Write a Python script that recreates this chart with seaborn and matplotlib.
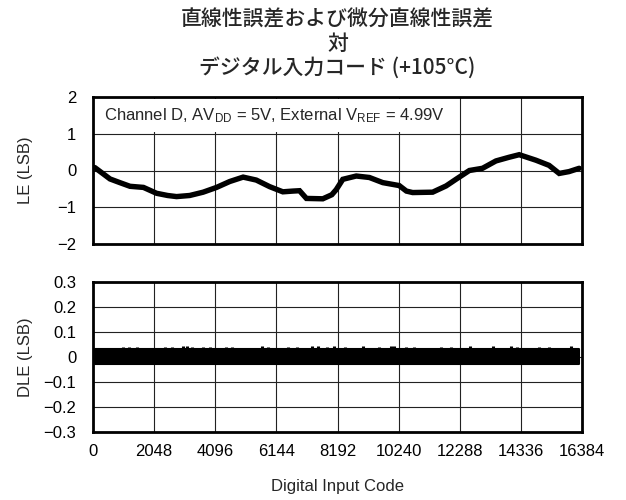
import numpy as np
import pandas as pd
import matplotlib
matplotlib.use("Agg")
import matplotlib.pyplot as plt
import seaborn as sns

# Linearity error (LSB) versus digital input code
le_code = [60, 570, 900, 1240, 1690, 2130, 2500, 2800, 3240, 3690, 4140, 4580,
           5030, 5470, 5920, 6360, 6700, 6920, 7150, 7700, 8000, 8150, 8370,
           8820, 9260, 9710, 10260, 10500, 10710, 11380, 11830, 12160, 12610,
           13050, 13500, 13940, 14280, 14840, 15280, 15620, 15950, 16290]
le_value = [0.08, -0.23, -0.33, -0.43, -0.46, -0.62, -0.68, -0.71, -0.68, -0.59,
            -0.46, -0.30, -0.18, -0.26, -0.44, -0.58, -0.56, -0.55, -0.76, -0.77,
            -0.66, -0.52, -0.24, -0.15, -0.19, -0.33, -0.41, -0.56, -0.60, -0.59,
            -0.42, -0.24, 0.00, 0.06, 0.26, 0.36, 0.43, 0.28, 0.14, -0.08, -0.03,
            0.06]

# Differential linearity error (LSB): band envelope and isolated peaks
dle_code = [70, 16290]
dle_high = [0.032, 0.032]
dle_low = [-0.026, -0.026]
dle_spike_code = [1003, 1204, 1471, 2408, 2642, 3000, 3150, 3310, 3678, 3912,
                  4447, 4648, 5651, 5852, 6520, 6822, 7350, 7550, 7824, 8059,
                  8427, 9062, 9597, 9980, 10100, 10500, 10767, 11670, 12004,
                  12640, 13409, 14011, 14211, 14947, 15281, 16017]
dle_spike_peak = [0.042, 0.042, 0.040, 0.042, 0.042, 0.044, 0.044, 0.042, 0.040,
                  0.042, 0.042, 0.040, 0.046, 0.042, 0.042, 0.040, 0.044, 0.044,
                  0.042, 0.044, 0.040, 0.044, 0.042, 0.044, 0.044, 0.042, 0.040,
                  0.042, 0.042, 0.044, 0.044, 0.044, 0.042, 0.040, 0.042, 0.046]

x_ticks = [0, 2048, 4096, 6144, 8192, 10240, 12288, 14336, 16384]
le_ticks = [2, 1, 0, -1, -2]
le_tick_labels = ["2", "1", "0", "\u22121", "\u22122"]
dle_ticks = [0.3, 0.2, 0.1, 0, -0.1, -0.2, -0.3]
dle_tick_labels = ["0.3", "0.2", "0.1", "0", "\u22120.1", "\u22120.2", "\u22120.3"]

title_lines = ["直線性誤差および微分直線性誤差", "対", "デジタル入力コード (+105°C)"]

sns.set_theme(style="white")
plt.rcParams["font.family"] = ["Liberation Sans", "DejaVu Sans"]
plt.rcParams["mathtext.fontset"] = "custom"
plt.rcParams["mathtext.rm"] = "Liberation Sans"
plt.rcParams["mathtext.it"] = "Liberation Sans"
plt.rcParams["axes.unicode_minus"] = True

fig = plt.figure(figsize=(6.26, 5.00), dpi=100)
ax_le = fig.add_axes([93 / 626, 1 - 244 / 500, 489 / 626, 147 / 500])
ax_dle = fig.add_axes([93 / 626, 1 - 432 / 500, 489 / 626, 150 / 500])

le_df = pd.DataFrame({"code": le_code, "le": le_value})
sns.lineplot(data=le_df, x="code", y="le", ax=ax_le, color="black",
             linewidth=3.9, solid_joinstyle="miter", zorder=4)

ax_dle.fill_between(dle_code, dle_low, dle_high, color="black", linewidth=1.5,
                    edgecolor="black", zorder=4)
ax_dle.vlines(dle_spike_code, 0, dle_spike_peak, color="black", linewidth=2.2,
              zorder=4)

font_size = 12
for ax in (ax_le, ax_dle):
    ax.set_xlim(0, 16384)
    ax.set_xticks(x_ticks)
    ax.grid(True, color="#222222", linewidth=0.8)
    ax.tick_params(length=0, labelsize=font_size, colors="black")
    ax.tick_params(axis="y", pad=12)
    ax.tick_params(axis="x", pad=9)
    for sp in ax.spines.values():
        sp.set_visible(True)
        sp.set_color("black")
        sp.set_linewidth(2)
    ax.set_xlabel("")

ax_le.set_ylim(-2, 2)
ax_le.set_yticks(le_ticks)
ax_le.set_yticklabels(le_tick_labels)
ax_le.set_xticklabels([])
ax_le.set_ylabel("LE (LSB)", fontsize=font_size)
ax_le.yaxis.set_label_coords(-0.122, 0.5)

ax_dle.set_ylim(-0.3, 0.3)
ax_dle.set_yticks(dle_ticks)
ax_dle.set_yticklabels(dle_tick_labels)
ax_dle.set_xticklabels([str(t) for t in x_ticks])
ax_dle.set_ylabel("DLE (LSB)", fontsize=font_size)
ax_dle.yaxis.set_label_coords(-0.122, 0.5)
ax_dle.set_xlabel("Digital Input Code", fontsize=font_size, labelpad=14)

ax_le.text(0.023, 0.875,
           r"Channel D, AV$_\mathregular{DD}$ = 5V, External V$_\mathregular{REF}$ = 4.99V",
           transform=ax_le.transAxes, fontsize=font_size, va="center", ha="left",
           zorder=5,
           bbox=dict(facecolor="white", edgecolor="none", pad=5.0))

cjk = ["Noto Sans CJK JP", "Liberation Sans", "DejaVu Sans"]
title_y = [1 - 20 / 500, 1 - 44 / 500, 1 - 68 / 500]
for line, y in zip(title_lines, title_y):
    fig.text(337.5 / 626, y, line, ha="center", va="center", fontsize=15,
             fontweight="medium", family=cjk)

fig.savefig("out.png", dpi=100)
